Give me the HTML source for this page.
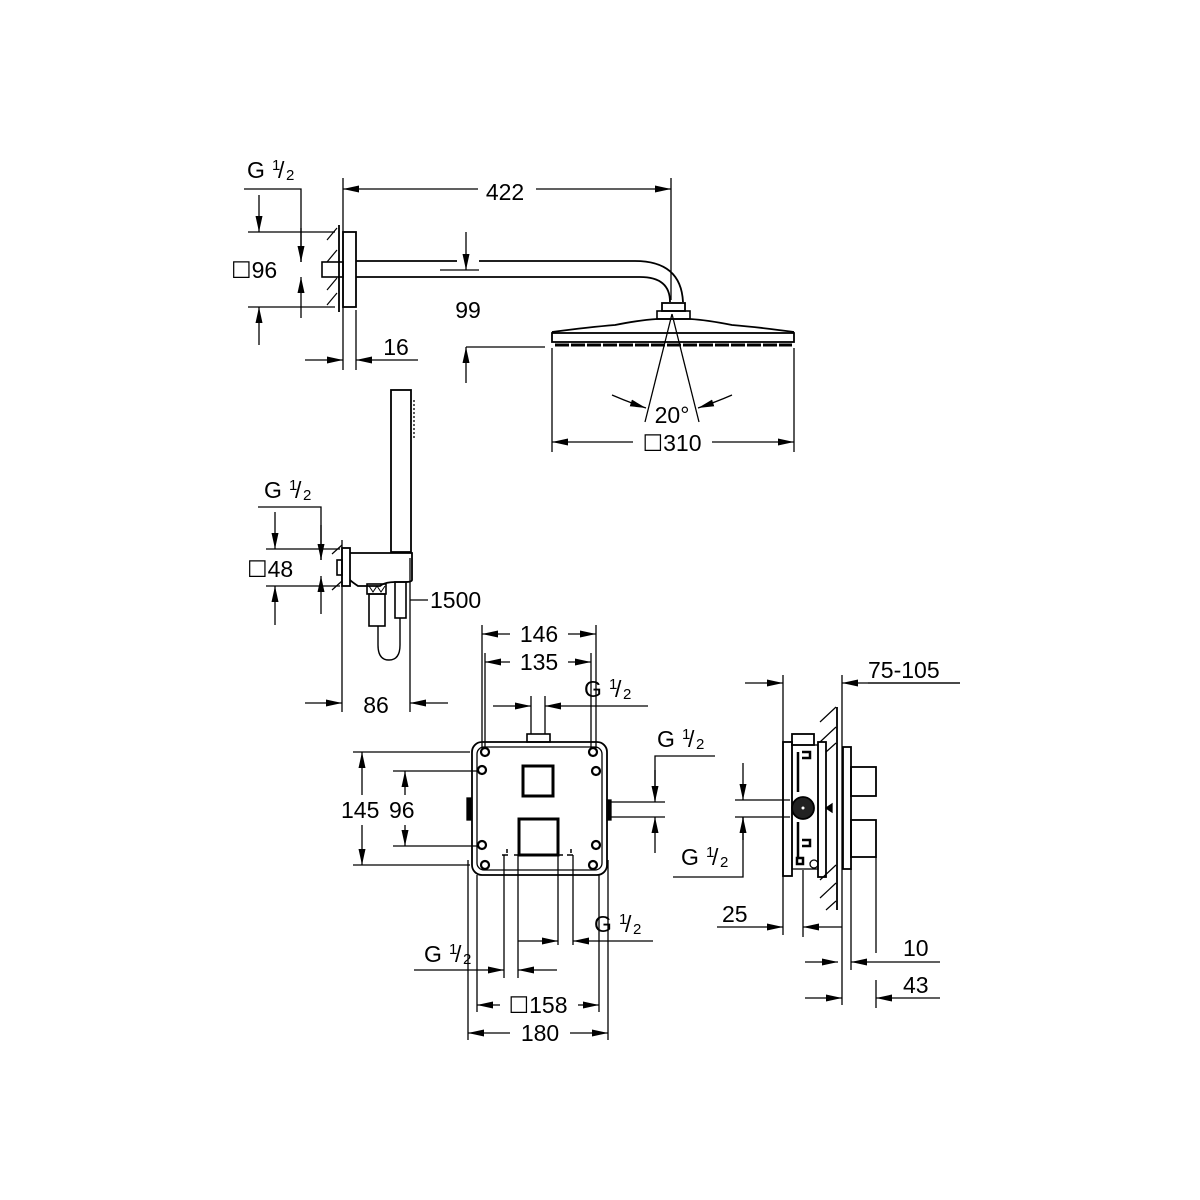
<!DOCTYPE html>
<html><head><meta charset="utf-8"><style>
html,body{margin:0;padding:0;background:#fff}
svg{display:block}
text{font-family:"Liberation Sans",sans-serif;font-size:23px;fill:#000}
.s{font-size:15px}
</style></head><body>
<svg width="1200" height="1200" viewBox="0 0 1200 1200" xmlns="http://www.w3.org/2000/svg">
<defs>
<marker id="a" viewBox="0 0 16 7" refX="16" refY="3.5" markerWidth="16" markerHeight="7" markerUnits="userSpaceOnUse" orient="auto-start-reverse"><path d="M0,0 L16,3.5 L0,7z" fill="#000"/></marker>
</defs>
<g stroke="#000" stroke-width="1.3" fill="none">
<line x1="343" y1="178" x2="343" y2="370"/>
<line x1="671" y1="178" x2="671" y2="300"/>
<line x1="343" y1="189" x2="478" y2="189" marker-start="url(#a)"/>
<line x1="536" y1="189" x2="671" y2="189" marker-end="url(#a)"/>
<g stroke-width="1.2">
<line x1="327" y1="240" x2="337" y2="228"/><line x1="327" y1="262" x2="337" y2="250"/>
<line x1="327" y1="290" x2="337" y2="278"/><line x1="327" y1="305" x2="337" y2="293"/>
</g>
<line x1="339" y1="225" x2="339" y2="312" stroke-width="1.8"/>
<rect x="343" y="232" width="13" height="75" stroke-width="1.8"/>
<rect x="322" y="262" width="21" height="15" stroke-width="1.6"/>
<path d="M356 261 H457 M479 261 H635 Q681 261 683 302" stroke-width="1.8"/>
<path d="M356 277 H640 Q670 277 670 302" stroke-width="1.8"/>
<rect x="662" y="303" width="23" height="8" stroke-width="1.8"/>
<rect x="657" y="311" width="33" height="8" stroke-width="1.6"/>
<path d="M552 332 Q590 327 615 325 Q640 320 657 319 H690 Q707 320 732 325 Q757 327 794 332" stroke-width="1.8"/>
<rect x="552" y="333" width="242" height="9" stroke-width="1.8"/>
<line x1="555" y1="345" x2="792" y2="345" stroke-width="3" stroke-dasharray="14 2"/>
<line x1="440" y1="270" x2="479" y2="270"/>
<line x1="466" y1="232" x2="466" y2="270" marker-end="url(#a)"/>
<line x1="466" y1="347" x2="545" y2="347"/>
<line x1="466" y1="383" x2="466" y2="347" marker-end="url(#a)"/>
<line x1="552" y1="348" x2="552" y2="452"/>
<line x1="794" y1="348" x2="794" y2="452"/>
<line x1="552" y1="442" x2="633" y2="442" marker-start="url(#a)"/>
<line x1="712" y1="442" x2="794" y2="442" marker-end="url(#a)"/>
<line x1="672" y1="314" x2="645" y2="422"/>
<line x1="672" y1="314" x2="699" y2="422"/>
<path d="M612 395 Q628 402 646 408" marker-end="url(#a)"/>
<path d="M732 395 Q716 402 698 408" marker-end="url(#a)"/>
<line x1="356" y1="310" x2="356" y2="370"/>
<line x1="305" y1="360" x2="343" y2="360" marker-end="url(#a)"/>
<line x1="418" y1="360" x2="356" y2="360" marker-end="url(#a)"/>
<polyline points="244,189 301,189 301,262"/>
<line x1="301" y1="228" x2="301" y2="262" marker-end="url(#a)"/>
<line x1="301" y1="318" x2="301" y2="277" marker-end="url(#a)"/>
<line x1="248" y1="232" x2="335" y2="232"/>
<line x1="248" y1="307" x2="335" y2="307"/>
<line x1="259" y1="195" x2="259" y2="232" marker-end="url(#a)"/>
<line x1="259" y1="345" x2="259" y2="307" marker-end="url(#a)"/>

<rect x="391" y="390" width="20" height="162" stroke-width="1.8"/>
<line x1="414" y1="400" x2="414" y2="440" stroke-dasharray="2 2"/>
<line x1="342" y1="540" x2="342" y2="712"/>
<g stroke-width="1.2">
<line x1="332" y1="554" x2="342" y2="545"/><line x1="332" y1="590" x2="342" y2="581"/>
</g>
<rect x="342" y="548" width="8" height="38" stroke-width="1.8"/>
<rect x="337" y="560" width="5" height="15" stroke-width="1.6"/>
<path d="M350 553 H412 V580 Q412 582 405 582 H395 Q385 582 380 586 H358 Q352 582 350 580" stroke-width="1.8"/>
<rect x="367" y="584" width="19" height="10" stroke-width="1.6"/>
<path d="M369 586 l4 6 l4 -6 l4 6 l4 -6" stroke-width="1"/>
<rect x="369" y="594" width="16" height="32" stroke-width="1.6"/>
<rect x="395" y="582" width="11" height="36" stroke-width="1.6"/>
<path d="M378 626 V645 Q378 660 389 660 Q400 660 400 645 V618" stroke-width="1.4"/>
<line x1="410" y1="558" x2="410" y2="712"/>
<line x1="305" y1="703" x2="342" y2="703" marker-end="url(#a)"/>
<line x1="448" y1="703" x2="410" y2="703" marker-end="url(#a)"/>
<line x1="410" y1="600" x2="428" y2="600"/>
<polyline points="258,507 321,507 321,560"/>
<line x1="321" y1="525" x2="321" y2="560" marker-end="url(#a)"/>
<line x1="321" y1="614" x2="321" y2="576" marker-end="url(#a)"/>
<line x1="266" y1="549" x2="340" y2="549"/>
<line x1="266" y1="586" x2="340" y2="586"/>
<line x1="275" y1="512" x2="275" y2="549" marker-end="url(#a)"/>
<line x1="275" y1="625" x2="275" y2="586" marker-end="url(#a)"/>

<rect x="472" y="742" width="135" height="133" rx="10" stroke-width="1.8"/>
<rect x="477" y="747" width="125" height="123" rx="7" stroke-width="1.3"/>
<line x1="531" y1="696" x2="531" y2="734"/><line x1="545" y1="696" x2="545" y2="734"/>
<rect x="527" y="734" width="23" height="8" stroke-width="1.6"/>
<rect x="523" y="766" width="30" height="30" stroke-width="3"/>
<rect x="519" y="819" width="39" height="36" stroke-width="3"/>
<g stroke-width="2.2">
<circle cx="485" cy="752" r="4"/><circle cx="593" cy="752" r="4"/>
<circle cx="482" cy="770" r="4"/><circle cx="596" cy="771" r="4"/>
<circle cx="482" cy="845" r="4"/><circle cx="596" cy="845" r="4"/>
<circle cx="485" cy="865" r="4"/><circle cx="593" cy="865" r="4"/>
</g>
<rect x="467" y="798" width="4" height="22" fill="#000"/>
<rect x="607" y="800" width="4" height="20" fill="#000"/>
<line x1="611" y1="802" x2="665" y2="802"/><line x1="611" y1="817" x2="665" y2="817"/>
<line x1="504" y1="855" x2="504" y2="978"/><line x1="518" y1="855" x2="518" y2="978"/>
<line x1="558" y1="855" x2="558" y2="945"/><line x1="573" y1="855" x2="573" y2="945"/>
<g stroke-width="1.5"><path d="M502 855 h6 M507 849 v4 M514 855 h6 M557 855 h6 M567 855 h6 M571 849 v4"/></g>
<line x1="482" y1="625" x2="482" y2="748"/><line x1="596" y1="625" x2="596" y2="748"/>
<line x1="485" y1="653" x2="485" y2="748"/><line x1="591" y1="653" x2="591" y2="748"/>
<line x1="482" y1="634" x2="510" y2="634" marker-start="url(#a)"/>
<line x1="568" y1="634" x2="596" y2="634" marker-end="url(#a)"/>
<line x1="485" y1="662" x2="510" y2="662" marker-start="url(#a)"/>
<line x1="568" y1="662" x2="591" y2="662" marker-end="url(#a)"/>
<line x1="493" y1="706" x2="531" y2="706" marker-end="url(#a)"/>
<line x1="648" y1="706" x2="545" y2="706" marker-end="url(#a)"/>
<polyline points="715,756 655,756 655,800"/>
<line x1="655" y1="770" x2="655" y2="802" marker-end="url(#a)"/>
<line x1="655" y1="853" x2="655" y2="817" marker-end="url(#a)"/>
<line x1="353" y1="752" x2="470" y2="752"/><line x1="353" y1="865" x2="470" y2="865"/>
<line x1="393" y1="771" x2="478" y2="771"/><line x1="393" y1="846" x2="478" y2="846"/>
<line x1="362" y1="795" x2="362" y2="752" marker-end="url(#a)"/>
<line x1="362" y1="825" x2="362" y2="865" marker-end="url(#a)"/>
<line x1="405" y1="795" x2="405" y2="771" marker-end="url(#a)"/>
<line x1="405" y1="825" x2="405" y2="846" marker-end="url(#a)"/>
<line x1="518" y1="941" x2="558" y2="941" marker-end="url(#a)"/>
<line x1="653" y1="941" x2="573" y2="941" marker-end="url(#a)"/>
<line x1="414" y1="970" x2="504" y2="970" marker-end="url(#a)"/>
<line x1="557" y1="970" x2="518" y2="970" marker-end="url(#a)"/>
<line x1="477" y1="875" x2="477" y2="1012"/><line x1="599" y1="875" x2="599" y2="1012"/>
<line x1="468" y1="860" x2="468" y2="1040"/><line x1="608" y1="860" x2="608" y2="1040"/>
<line x1="477" y1="1005" x2="500" y2="1005" marker-start="url(#a)"/>
<line x1="578" y1="1005" x2="599" y2="1005" marker-end="url(#a)"/>
<line x1="468" y1="1033" x2="510" y2="1033" marker-start="url(#a)"/>
<line x1="570" y1="1033" x2="608" y2="1033" marker-end="url(#a)"/>

<line x1="783" y1="675" x2="783" y2="935"/>
<line x1="842" y1="675" x2="842" y2="1005"/>
<line x1="745" y1="683" x2="783" y2="683" marker-end="url(#a)"/>
<line x1="960" y1="683" x2="842" y2="683" marker-end="url(#a)"/>
<line x1="837" y1="707" x2="837" y2="910" stroke-width="1.8"/>
<g stroke-width="1.2">
<line x1="820" y1="722" x2="836" y2="707"/><line x1="820" y1="742" x2="836" y2="727"/>
<line x1="826" y1="752" x2="836" y2="743"/>
<line x1="820" y1="880" x2="836" y2="865"/><line x1="820" y1="898" x2="836" y2="883"/>
<line x1="826" y1="910" x2="836" y2="901"/>
</g>
<rect x="783" y="742" width="9" height="134" stroke-width="1.8"/>
<rect x="792" y="734" width="22" height="11" stroke-width="1.8"/>
<rect x="792" y="745" width="26" height="124" stroke-width="1.3"/>
<path d="M798 752 v40 M802 752 h8 v6 h-8 M798 822 v35 M802 840 h8 v6 h-8 M797 858 h6 v6 h-6z" stroke-width="2.5"/>
<circle cx="803" cy="808" r="11" fill="#222" stroke-width="1.8"/>
<circle cx="803" cy="808" r="1.5" fill="#fff" stroke="none"/>
<circle cx="814" cy="864" r="4" stroke-width="1.3"/>
<rect x="818" y="742" width="8" height="135" stroke-width="1.8"/>
<path d="M826 808 l6 -4 v8z" fill="#000"/>
<rect x="843" y="747" width="8" height="122" stroke-width="1.8"/>
<rect x="851" y="767" width="25" height="29" stroke-width="1.8"/>
<rect x="851" y="820" width="25" height="37" stroke-width="1.8"/>
<line x1="735" y1="800" x2="790" y2="800"/><line x1="735" y1="817" x2="790" y2="817"/>
<line x1="743" y1="763" x2="743" y2="800" marker-end="url(#a)"/>
<polyline points="673,877 743,877 743,817"/>
<line x1="743" y1="840" x2="743" y2="817" marker-end="url(#a)"/>
<line x1="803" y1="870" x2="803" y2="937"/>
<line x1="717" y1="927" x2="783" y2="927" marker-end="url(#a)"/>
<line x1="842" y1="927" x2="803" y2="927" marker-end="url(#a)"/>
<line x1="851" y1="869" x2="851" y2="970"/>
<line x1="876" y1="857" x2="876" y2="953"/>
<line x1="876" y1="980" x2="876" y2="1008"/>
<line x1="805" y1="962" x2="838" y2="962" marker-end="url(#a)"/>
<line x1="940" y1="962" x2="851" y2="962" marker-end="url(#a)"/>
<line x1="805" y1="998" x2="842" y2="998" marker-end="url(#a)"/>
<line x1="940" y1="998" x2="876" y2="998" marker-end="url(#a)"/>
<line x1="868" y1="683" x2="960" y2="683"/>
</g>
<g>
<text x="505" y="200" text-anchor="middle">422</text>
<text x="468" y="318" text-anchor="middle">99</text>
<text x="396" y="355" text-anchor="middle">16</text>
<text x="672" y="423" text-anchor="middle">20°</text>
<text x="672" y="451" text-anchor="middle">☐310</text>
<text x="247" y="178">G</text><text class="s" x="272" y="170">1</text><text x="278" y="178">/</text><text class="s" x="286" y="180">2</text>
<text x="231" y="278">☐96</text>
<text x="264" y="498">G</text><text class="s" x="289" y="490">1</text><text x="295" y="498">/</text><text class="s" x="303" y="500">2</text>
<text x="247" y="577">☐48</text>
<text x="430" y="608">1500</text>
<text x="376" y="713" text-anchor="middle">86</text>
<text x="539" y="642" text-anchor="middle">146</text>
<text x="539" y="670" text-anchor="middle">135</text>
<text x="584" y="697">G</text><text class="s" x="609" y="689">1</text><text x="615" y="697">/</text><text class="s" x="623" y="699">2</text>
<text x="657" y="747">G</text><text class="s" x="682" y="739">1</text><text x="688" y="747">/</text><text class="s" x="696" y="749">2</text>
<text x="341" y="818">145</text><text x="389" y="818">96</text>
<text x="681" y="865">G</text><text class="s" x="706" y="857">1</text><text x="712" y="865">/</text><text class="s" x="720" y="867">2</text>
<text x="594" y="932">G</text><text class="s" x="619" y="924">1</text><text x="625" y="932">/</text><text class="s" x="633" y="934">2</text>
<text x="424" y="962">G</text><text class="s" x="449" y="954">1</text><text x="455" y="962">/</text><text class="s" x="463" y="964">2</text>
<text x="538" y="1013" text-anchor="middle">☐158</text>
<text x="540" y="1041" text-anchor="middle">180</text>
<text x="868" y="678">75-105</text>
<text x="722" y="922">25</text>
<text x="903" y="956">10</text>
<text x="903" y="993">43</text>
</g>
</svg>
</body></html>
